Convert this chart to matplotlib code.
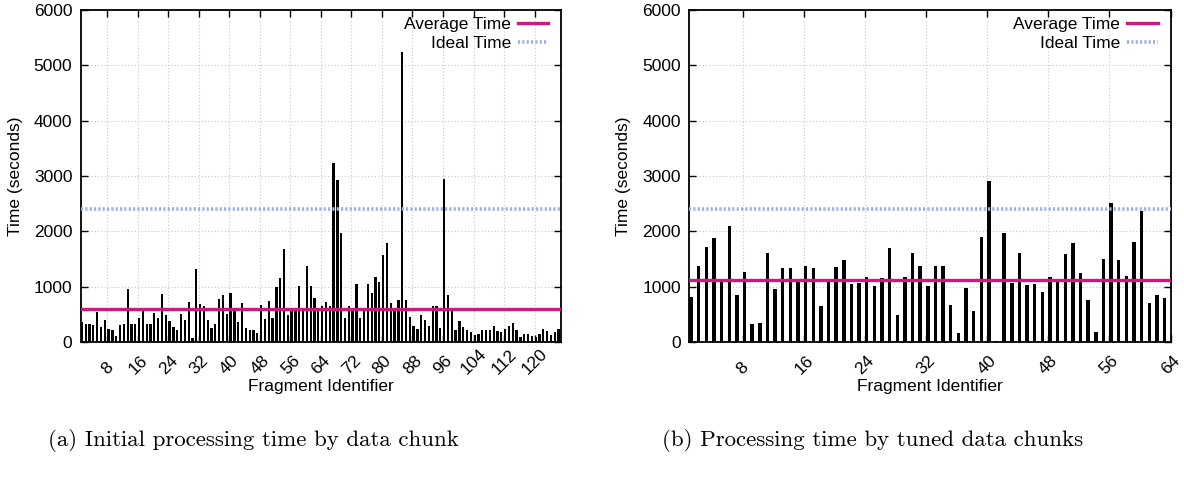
import numpy as np
import matplotlib
matplotlib.use("Agg")
import matplotlib.pyplot as plt

plt.rcParams['font.family'] = ['Liberation Sans', 'DejaVu Sans']

# initial fragments (1..126), seconds
initial_times = [
    362, 332, 332, 302, 543, 271, 392, 229, 223, 103,
    302, 326, 953, 320, 332, 434, 573, 320, 320, 525,
    434, 862, 482, 380, 265, 211, 507, 398, 718, 72,
    1315, 681, 651, 392, 253, 320, 772, 844, 507, 880,
    573, 362, 700, 247, 217, 217, 163, 663, 410, 736,
    434, 989, 1152, 1682, 482, 573, 573, 1007, 573, 1375,
    1007, 790, 573, 657, 718, 657, 3232, 2925, 1966, 428,
    645, 573, 1043, 428, 573, 1043, 880, 1170, 1079, 1568,
    1785, 700, 555, 754, 5240, 754, 446, 283, 229, 488,
    392, 283, 645, 645, 247, 2950, 844, 573, 223, 386,
    265, 211, 187, 133, 139, 223, 211, 211, 283, 193,
    175, 229, 283, 344, 211, 96, 145, 145, 108, 96,
    145, 229, 193, 120, 180, 230,
]
initial_avg = 600

# tuned fragments (1..63), seconds
tuned_times = [
    813, 1373, 1716, 1878, 1090, 2095, 849, 1264, 325, 337,
    1607, 963, 1330, 1342, 1090, 1373, 1336, 650, 1090, 1354,
    1487, 1047, 1072, 1174, 1011, 1156, 1697, 482, 1174, 1607,
    1373, 1011, 1373, 1373, 668, 163, 981, 566, 1896, 2914,
    15, 1968, 1072, 1607, 1029, 1047, 897, 1174, 1090, 1583,
    1788, 1246, 758, 181, 1505, 2510, 1481, 1198, 1806, 2372,
    704, 855, 801,
]
tuned_avg = 1115

ideal_time = 2400

avg_color = '#cc1a7c'
ideal_color = '#9db0e3'


def draw_panel(ax, times, avg, bar_width, xmax, ticks):
    x = np.arange(1, len(times) + 1)
    ax.bar(x, times, width=bar_width, align='edge', color='black', zorder=2)
    ax.axhline(avg, color=avg_color, lw=2.4, label='Average Time', zorder=3)
    ax.axhline(ideal_time, color=ideal_color, lw=2.6, ls=(0, (0.6, 0.6)),
               label='Ideal Time', zorder=3)

    ax.set_xlim(1, xmax)
    ax.set_ylim(0, 6000)
    ax.set_xticks(ticks)
    # rotated labels share a common baseline, like the gnuplot original
    ax.set_xticklabels([str(t) for t in ticks], rotation=45, ha='center',
                       va='bottom')
    ax.set_yticks(range(0, 6001, 1000))
    ax.tick_params(direction='in', top=True, right=True, labelsize=12.5,
                   length=5, width=1)
    ax.tick_params(axis='y', pad=6)
    ax.tick_params(axis='x', pad=25.5)
    ax.grid(True, color='#c8c8c8', ls=(0, (1, 2)), lw=0.8, zorder=0)
    for s in ax.spines.values():
        s.set_linewidth(1.3)
    ax.set_xlabel('Fragment Identifier', fontsize=12.5, va='top')
    ax.xaxis.set_label_coords(0.5, -0.11)
    ax.set_ylabel('Time (seconds)', fontsize=12.5, labelpad=8)
    ax.legend(loc='upper right', bbox_to_anchor=(0.973, 0.978),
              frameon=False, markerfirst=False,
              fontsize=12.5, handlelength=1.75, handletextpad=0.4,
              labelspacing=0.2, borderaxespad=0, borderpad=0)


fig = plt.figure(figsize=(11.84, 4.96), dpi=100)
ax1 = fig.add_axes([0.0682, 0.3105, 0.4058, 0.6695])
ax2 = fig.add_axes([0.5822, 0.3105, 0.4064, 0.6695])

draw_panel(ax1, initial_times, initial_avg, 0.6, 127, list(range(8, 121, 8)))
draw_panel(ax2, tuned_times, tuned_avg, 0.45, 64, list(range(8, 65, 8)))

fig.text(0.214, 0.112, '(a) Initial processing time by data chunk',
         family='cmr10', fontsize=16.5, ha='center', va='center')
fig.text(0.737, 0.112, '(b) Processing time by tuned data chunks',
         family='cmr10', fontsize=16.5, ha='center', va='center')

fig.savefig('out.png', dpi=100)
